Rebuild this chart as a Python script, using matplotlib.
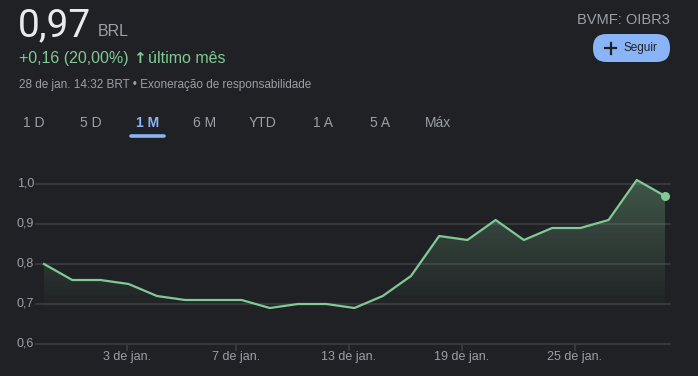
import matplotlib
matplotlib.use("Agg")
import matplotlib.pyplot as plt
import numpy as np
from matplotlib.patches import FancyBboxPatch

# closing prices, one per trading session (last month)
prices = [0.80, 0.76, 0.76, 0.75, 0.72, 0.71, 0.71, 0.71, 0.69, 0.70, 0.70, 0.69,
          0.72, 0.77, 0.87, 0.86, 0.91, 0.86, 0.89, 0.89, 0.91, 1.01, 0.97]
x_labels = ["3 de jan.", "7 de jan.", "13 de jan.", "19 de jan.", "25 de jan."]
x_label_idx = [2.95, 6.8, 10.8, 14.8, 18.8]
y_ticks = [0.6, 0.7, 0.8, 0.9, 1.0]
y_labels = ["0,6", "0,7", "0,8", "0,9", "1,0"]
tabs = ["1 D", "5 D", "1 M", "6 M", "YTD", "1 A", "5 A", "Máx"]

W, H = 698, 376
BG = "#202124"
GREEN = "#81c995"
GREY = "#9aa0a6"
GRID = "#3a3b3e"
BLUE = "#8ab4f8"
FONT = ["Liberation Sans", "DejaVu Sans"]

fig = plt.figure(figsize=(W / 100, H / 100), dpi=100, facecolor=BG)
renderer = fig.canvas.get_renderer()


def px(x, y):
    return x / W, 1 - y / H


# header
fig.text(*px(18, 36), "0,97", color="#e8eaed", fontsize=28, family="Roboto", va="baseline")
fig.text(*px(98, 36), "BRL", color=GREY, fontsize=11.5, family=FONT, va="baseline")

t1 = fig.text(*px(19, 63), "+0,16 (20,00%) ", color=GREEN, fontsize=11.5,
              family=FONT, va="baseline")
x_next = 19 + t1.get_window_extent(renderer).width
t2 = fig.text(*px(x_next, 63), "\u2191", color=GREEN, fontsize=11, family="DejaVu Sans",
              fontweight="bold", va="baseline")
x_next += t2.get_window_extent(renderer).width + 2
fig.text(*px(x_next, 63), "último mês", color=GREEN, fontsize=11.5, family=FONT,
         va="baseline")

fig.text(*px(19, 88), "28 de jan. 14:32 BRT \u2022 Exoneração de responsabilidade",
         color=GREY, fontsize=8.5, family=FONT, va="baseline")
fig.text(*px(670, 24), "BVMF: OIBR3", color=GREY, fontsize=10.5, family=FONT,
         va="baseline", ha="right")

# follow button
bax = fig.add_axes([593 / W, 1 - 62 / H, 77 / W, 28 / H])
bax.set_xlim(0, 77)
bax.set_ylim(0, 28)
bax.axis("off")
bax.add_patch(FancyBboxPatch((0, 0), 77, 28, boxstyle="round,pad=0,rounding_size=13.5",
                             facecolor=BLUE, edgecolor="none"))
bax.plot([12, 23], [14, 14], color="#202124", linewidth=1.6)
bax.plot([17.5, 17.5], [8.5, 19.5], color="#202124", linewidth=1.6)
bax.text(30, 14, "Seguir", color="#202124", fontsize=8.5, family=FONT,
         ha="left", va="center")

# range tabs
tab_x = [34, 91, 148, 205, 263, 323, 380, 438]
for lab, tx in zip(tabs, tab_x):
    sel = lab == "1 M"
    fig.text(*px(tx, 123), lab, color=BLUE if sel else GREY, fontsize=10, family=FONT,
             ha="center", va="center", fontweight="bold" if sel else "normal")
fig.add_artist(plt.Line2D([131 / W, 164 / W], [1 - 135.5 / H] * 2, color=BLUE,
                          linewidth=2.6, solid_capstyle="round"))

# chart axes
left, right, top, bottom = 36, 670, 170, 344
ax = fig.add_axes([left / W, 1 - bottom / H, (right - left) / W, (bottom - top) / H])
ax.set_facecolor(BG)
n = len(prices)
step = (665 - 44) / (n - 1)
ax.set_xlim(-(44 - left) / step, (n - 1) + (right - 665) / step)
ax.set_ylim(0.6, 0.6 + (bottom - top) / 400)
for s in ax.spines.values():
    s.set_visible(False)
ax.set_xticks([])
ax.set_yticks([])

for yv, yl in zip(y_ticks, y_labels):
    ax.axhline(yv, color=GRID, linewidth=1.3, zorder=1, clip_on=False)
    ax.text(-(44 - left) / step - 0.07, yv, yl, color=GREY, fontsize=9, family=FONT,
            ha="right", va="center")

for xi, xl in zip(x_label_idx, x_labels):
    ax.plot([xi, xi], [0.6, 0.6 - 6 / 400], color=GRID, linewidth=1.3, clip_on=False)
    ax.text(xi, 0.6 - 13 / 400, xl, color=GREY, fontsize=9, family=FONT,
            ha="center", va="center")

xs = np.arange(n)
poly = ax.fill_between(xs, prices, 0.6, color="none", linewidth=0)
grad = np.zeros((100, 2, 4))
rgb = matplotlib.colors.to_rgb(GREEN)
levels = np.linspace(0.6, 1.05, 100)
grad[:, :, :3] = rgb
grad[:, :, 3] = (np.clip((levels - 0.68) / (1.02 - 0.68), 0, 1) * 0.33)[:, None]
im = ax.imshow(grad, extent=[0, n - 1, 0.6, 1.05], origin="lower", aspect="auto",
               zorder=2, interpolation="bilinear")
im.set_clip_path(poly.get_paths()[0], transform=ax.transData)

ax.plot(xs, prices, color=GREEN, linewidth=1.6, zorder=3, clip_on=False)
ax.plot(xs[-1], prices[-1], "o", color=GREEN, markersize=5.5, zorder=4, clip_on=False)

fig.savefig("out.png", dpi=100, facecolor=BG)
